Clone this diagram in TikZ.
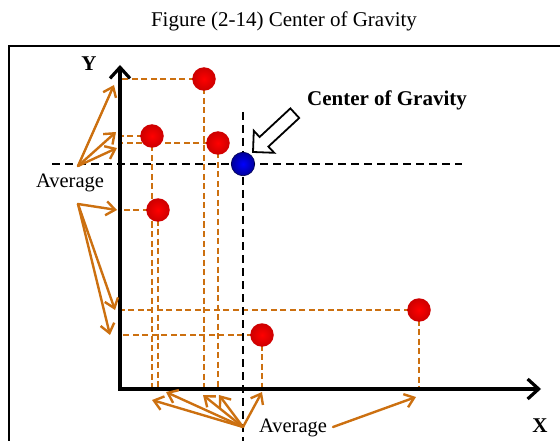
\documentclass[tikz,border=0pt]{standalone}
\usepackage{fontspec}
\setmainfont{Liberation Serif}
\usepackage{xcolor}
\usetikzlibrary{arrows.meta}
\definecolor{cgorange}{RGB}{204,112,16}
\tikzset{
  cgframe/.style={line width=2pt, draw=black},
  cgaxis/.style={line width=3.2pt, draw=black, line join=miter,
    {Straight Barb[length=11pt,width=20pt]}-{Straight Barb[length=11pt,width=20pt]}},
  cgguide/.style={line width=1.7pt, draw=cgorange, dash pattern=on 6pt off 3.5pt},
  cgmean/.style={line width=2.6pt, draw=black, dash pattern=on 8pt off 5pt},
  cgpoint/.style={circle, minimum size=23.5pt, inner sep=0pt, shading=radial,
    inner color=red, outer color=red!80!black},
  cgcentre/.style={circle, minimum size=23.5pt, inner sep=0pt, shading=radial,
    inner color=blue, outer color=blue!60!black, draw=blue!30!black, line width=0.6pt},
  cgpointer/.style={line width=2.4pt, draw=cgorange, line cap=round,
    -{Straight Barb[length=9pt,width=14pt]}},
  cgblock/.style={fill=white, draw=black, line width=1.8pt, line join=miter},
  cgtitle/.style={inner sep=0pt, anchor=base, font=\fontsize{21}{25}\selectfont},
  cgword/.style={inner sep=0pt, anchor=base, font=\fontsize{20.5}{24}\selectfont},
  cgbold/.style={inner sep=0pt, anchor=base, font=\fontsize{21}{25}\selectfont\bfseries},
}
\begin{document}
\begin{tikzpicture}[x=1pt,y=-1pt]
\useasboundingbox (0,0) rectangle (560,441);
\draw[cgframe] (9,445) -- (9,46) -- (565,46);
\node[cgtitle] (title) at (284,27) {Figure (2-14) Center of Gravity};
\coordinate (O) at (120,389);
\coordinate (xend) at (541,389);
\coordinate (yend) at (120,65);
\coordinate (c1) at (204,79);
\coordinate (c2) at (152,136);
\coordinate (c3) at (218,143);
\coordinate (c4) at (158,210);
\coordinate (c5) at (262,335);
\coordinate (c6) at (419,310);
\coordinate (g) at (243,164);
\foreach \c in {c1,c2,c3,c4,c5,c6} {
  \draw[cgguide] (\c) -- (\c -| O);
  \draw[cgguide] (\c) -- (\c |- O);
}
\coordinate (hl) at (52,164);
\coordinate (hr) at (462,164);
\coordinate (vt) at (243,112);
\coordinate (vb) at (243,445);
\draw[cgmean] (hl) -- (hr);
\draw[cgmean] (vt) -- (vb);
\draw[cgaxis] (yend) -- (O) -- (xend);
\foreach \c/\n in {c1/p1,c2/p2,c3/p3,c4/p4,c5/p5,c6/p6}
  \node[cgpoint] (\n) at (\c) {};
\node[cgcentre] (cog) at (g) {};
\draw[cgblock] (253,152) -- (274.2,152.8) -- (268.4,146.6) -- (299.2,118.0)
  -- (290.4,108.4) -- (259.6,137.0) -- (253.8,130.8) -- cycle;
\node[cgbold] (coglabel) at (387,106) {Center of Gravity};
\node[cgbold] (ylabel) at (89,71) {Y};
\node[cgbold] (xlabel) at (540,432) {X};
\node[cgword] (avgleft) at (70,188) {Average};
\node[cgword] (avgbottom) at (293,432) {Average};
\coordinate (la) at (78,166);
\coordinate (lb) at (78,204);
\coordinate (bb) at (243,427);
\coordinate (br) at (333,427);
\foreach \x/\y [count=\i] in {114/85,116/132,117/148} {
  \coordinate (ta\i) at (\x,\y);
  \draw[cgpointer] (la) -- (ta\i);
}
\foreach \x/\y [count=\i] in {117/210,115/310,110/335} {
  \coordinate (tb\i) at (\x,\y);
  \draw[cgpointer] (lb) -- (tb\i);
}
\foreach \x/\y [count=\i] in {152/400,166/392,203/395,219/395,262/392} {
  \coordinate (tc\i) at (\x,\y);
  \draw[cgpointer] (bb) -- (tc\i);
}
\coordinate (td) at (416,397);
\draw[cgpointer] (br) -- (td);
\end{tikzpicture}
\end{document}
